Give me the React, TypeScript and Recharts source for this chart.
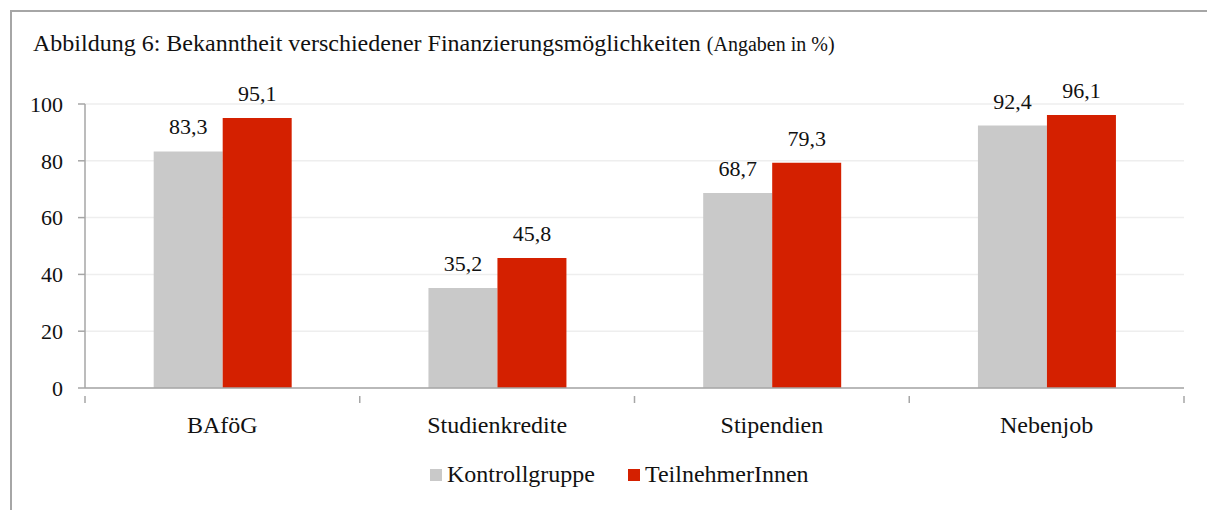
import { BarChart, Bar, XAxis, YAxis, CartesianGrid, LabelList } from "recharts"

const categories = ["BAföG", "Studienkredite", "Stipendien", "Nebenjob"]
const kontrollgruppe = [83.3, 35.2, 68.7, 92.4]
const teilnehmer = [95.1, 45.8, 79.3, 96.1]
const yTicks = [0, 20, 40, 60, 80, 100]

const seriesNames = ["Kontrollgruppe", "TeilnehmerInnen"]
const colors = ["#c9c9c9", "#d42000"]

const data = categories.map((c, i) => ({
  name: c,
  kontroll: kontrollgruppe[i],
  teilnehmer: teilnehmer[i],
}))

const W = 1207
const H = 510
const margin = { top: 104, right: 23, bottom: 92, left: 20 }
const yAxisWidth = 65
const band = (W - margin.left - margin.right - yAxisWidth) / categories.length
const font = "'Liberation Serif', 'Times New Roman', serif"
const axisColor = "#a6a6a6"

const fmt = (v: any) => String(v).replace(".", ",")

const CategoryTick = ({ x, y, payload, index }: any) => {
  const left = x - band / 2
  return (
    <g>
      <line x1={left} y1={y} x2={left} y2={y + 7} stroke={axisColor} strokeWidth={1.5} />
      {index === categories.length - 1 && (
        <line x1={left + band} y1={y} x2={left + band} y2={y + 7} stroke={axisColor} strokeWidth={1.5} />
      )}
      <text x={x} y={y + 20} dy="0.71em" textAnchor="middle" fill="#111" fontSize={24} fontFamily={font}>
        {payload.value}
      </text>
    </g>
  )
}

export default function App() {
  return (
    <div style={{ position: "absolute", left: 0, top: 0, width: W, height: H, background: "#fff", overflow: "hidden", fontFamily: font }}>
      <div style={{ position: "absolute", left: 10, top: 10, width: W, height: H, borderTop: `2px solid ${axisColor}`, borderLeft: `2px solid ${axisColor}` }} />
      <div style={{ position: "absolute", left: 33, top: 30, fontSize: 24, color: "#111", whiteSpace: "nowrap" }}>
        Abbildung 6: Bekanntheit verschiedener Finanzierungsmöglichkeiten <span style={{ fontSize: 20 }}>(Angaben in %)</span>
      </div>
      <div style={{ position: "absolute", left: 0, top: 0 }}>
        <BarChart width={W} height={H} data={data} margin={margin} barCategoryGap="25%" barGap={0}>
          <CartesianGrid vertical={false} stroke="#eeeeee" strokeWidth={1.5} />
          <XAxis
            dataKey="name"
            axisLine={{ stroke: axisColor, strokeWidth: 1.5 }}
            tickLine={false}
            tick={<CategoryTick />}
            interval={0}
          />
          <YAxis
            width={yAxisWidth}
            domain={[0, 100]}
            ticks={yTicks}
            axisLine={{ stroke: axisColor, strokeWidth: 1.5 }}
            tickLine={{ stroke: axisColor, strokeWidth: 1.5 }}
            tickSize={7}
            tickMargin={15}
            tick={{ fill: "#111", fontSize: 22, fontFamily: font }}
          />
          <Bar dataKey="kontroll" name={seriesNames[0]} fill={colors[0]} isAnimationActive={false}>
            <LabelList dataKey="kontroll" position="top" offset={17} formatter={fmt} style={{ fill: "#111", fontSize: 22, fontFamily: font }} />
          </Bar>
          <Bar dataKey="teilnehmer" name={seriesNames[1]} fill={colors[1]} isAnimationActive={false}>
            <LabelList dataKey="teilnehmer" position="top" offset={17} formatter={fmt} style={{ fill: "#111", fontSize: 22, fontFamily: font }} />
          </Bar>
        </BarChart>
      </div>
      <div style={{ position: "absolute", left: 430, top: 461, display: "flex", alignItems: "center", fontSize: 24, color: "#111" }}>
        {seriesNames.map((n, i) => (
          <div key={n} style={{ display: "flex", alignItems: "center", marginRight: 33 }}>
            <span style={{ display: "inline-block", width: 12, height: 12, background: colors[i], marginRight: 5 }} />
            <span>{n}</span>
          </div>
        ))}
      </div>
    </div>
  )
}
